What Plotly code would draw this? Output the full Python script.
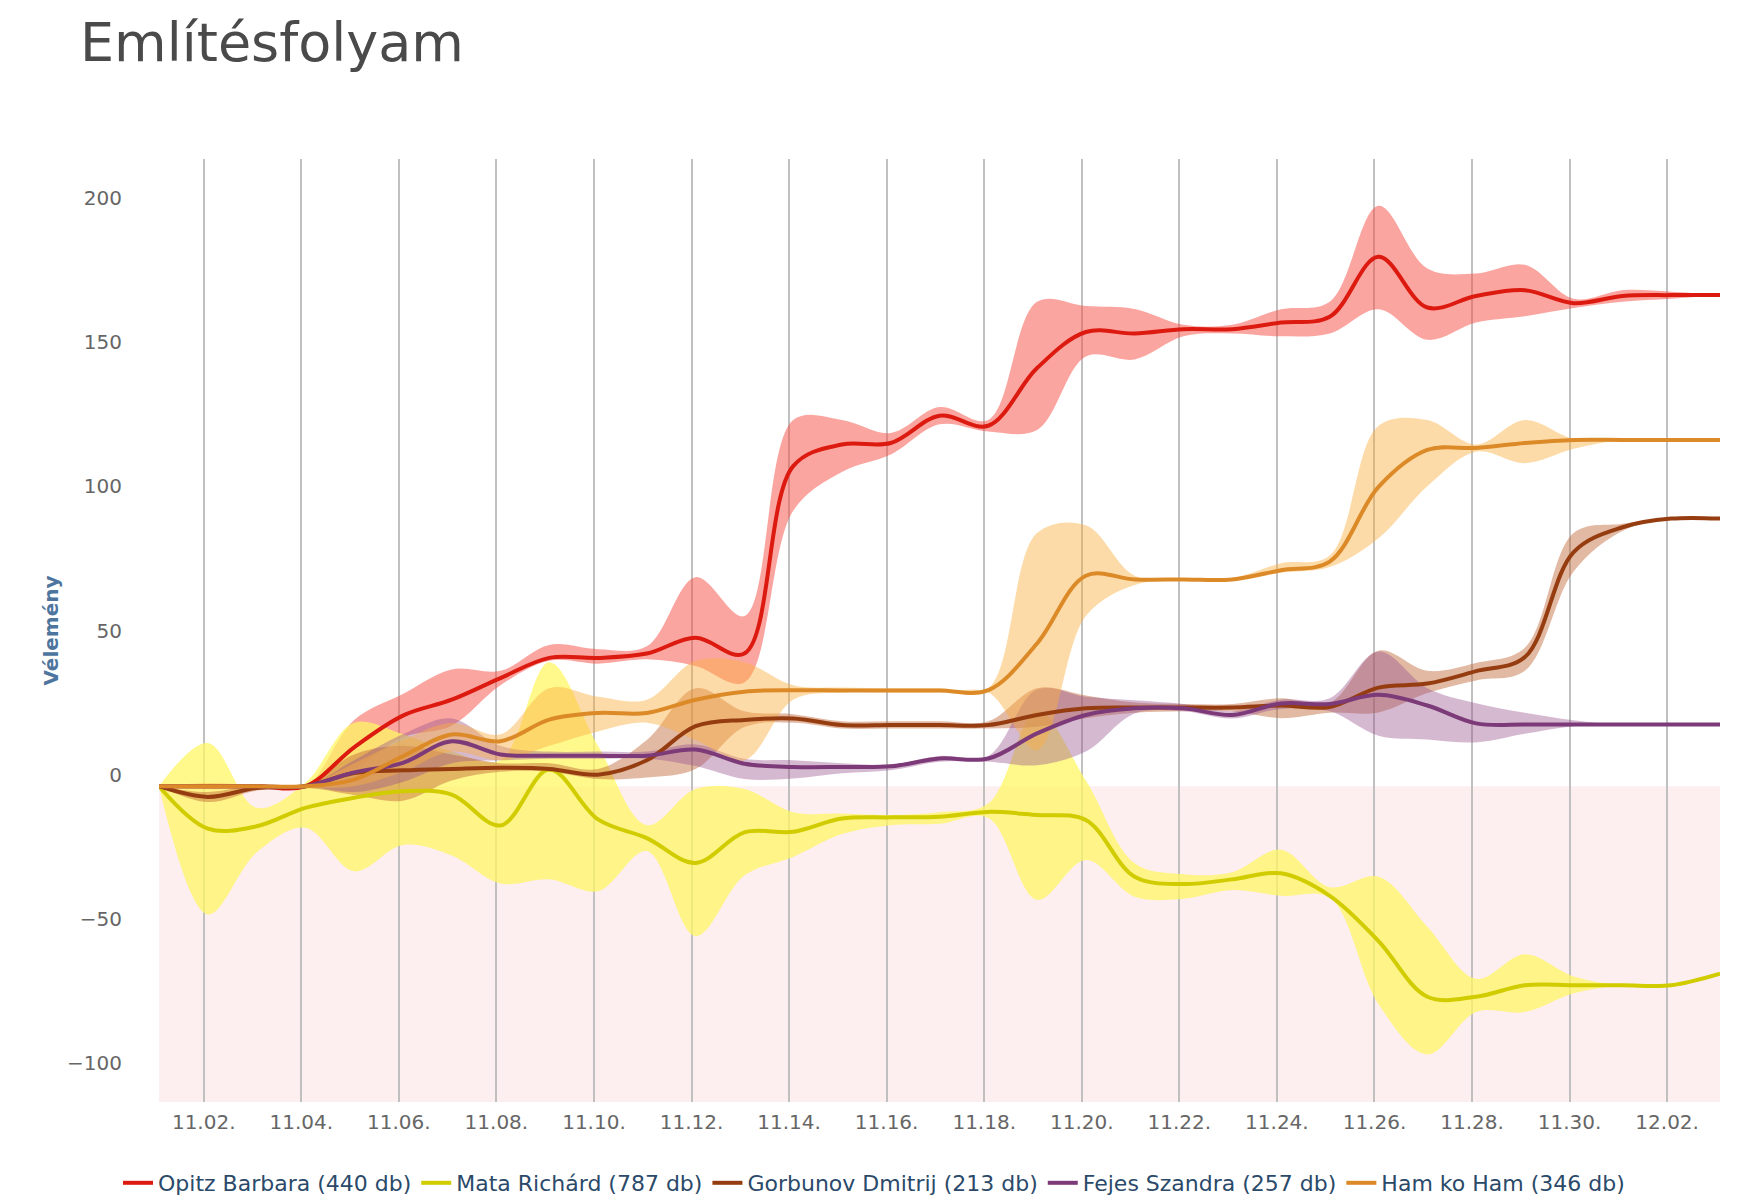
import plotly.graph_objects as go
import pandas as pd

dates = pd.date_range("2015-11-01 02:00", periods=33, freq="D")

names = ["Opitz Barbara (440 db)", "Mata Richárd (787 db)", "Gorbunov Dmitrij (213 db)",
         "Fejes Szandra (257 db)", "Ham ko Ham (346 db)"]

opitz = [-4, -4, -4, -4, 9.5, 20.5, 26, 33.5, 40.5, 40.5, 42, 47.5, 42, 107, 114.5, 115, 124.5,
         121, 141, 153.5, 153, 154.5, 154.5, 156.8, 158.8, 179.6, 162, 166, 168, 163.5, 166, 166.3, 166.3]
opitz_hi = [-4, -4, -4, -4, 19, 28, 36.5, 36, 45, 43.5, 44.5, 68.5, 55, 123, 123, 118.5, 127.5,
            123, 164, 162.5, 161.5, 156, 156, 161.4, 164, 197.3, 175.5, 173.8, 176.8, 165, 168, 167.5, 166.3]
opitz_lo = [-4, -4, -4, -4, 2, 13, 17, 31, 39.5, 38.5, 40, 37.7, 32, 91.5, 105, 111, 121.5,
            119, 119.5, 145, 144, 152, 153, 152, 153, 161.4, 150.8, 156.8, 159, 161.8, 164, 165, 166.3]

mata = [-4, -18.7, -17.9, -11.5, -8, -5.7, -6.9, -17.6, 1.8, -15.5, -22, -30.6, -20, -19.8, -15.2, -14.8, -14.6,
        -12.9, -14, -15.7, -35.4, -37.9, -36.3, -34.2, -42, -57.7, -77, -77, -73, -73, -73, -73, -69]
mata_hi = [-4, 11, -11.5, -2.8, 18, 14, 8, 5, 39, 10, -17.5, -5, -5, -13, -13.5, -14, -13,
           -10, 22, -2, -30.7, -34.5, -33.8, -26, -39, -35.4, -52.7, -70.8, -62.3, -70, -73, -73, -69]
mata_lo = [-4, -48.5, -27, -18.4, -33.5, -24.4, -28, -37.7, -36.3, -40.4, -26.5, -56, -35, -28.5, -20.6, -17.5, -17,
           -15, -43.4, -29.6, -42.3, -43, -40, -42, -42.7, -79.6, -97, -82.3, -82.3, -75.8, -73, -73, -69]

gorb = [-4, -7.7, -4.6, -4, 0.6, 1.5, 2, 2.4, 2, 0, 5, 16.8, 19, 19.5, 17.2, 17.2, 17.2,
        17.2, 20.7, 23, 23.3, 23.3, 23.3, 24, 23.5, 30.2, 31.6, 35.9, 40.8, 77.2, 85.8, 88.8, 88.8]
gorb_hi = [-4, -6, -3.5, -3.5, 7, 10, 7, 4, 4, 2, 12, 30, 22, 21, 18.5, 18.5, 18.5,
           18.5, 30, 27.5, 25, 24.5, 24.5, 26.5, 25, 43, 36, 38.7, 44, 83.8, 87, 88.8, 88.8]
gorb_lo = [-4, -9.5, -5.5, -4.5, -7, -9, -2, 1, 1, -1.5, -1, 2, 16.5, 18, 16, 16, 16,
           16, 16.6, 19.6, 21.5, 22, 22, 19.6, 21.5, 21.6, 28.3, 32.7, 36, 70.5, 84.5, 88.8, 88.8]

fejes = [-4, -4, -4, -4, 0.8, 4.1, 11.6, 7, 6.6, 6.6, 6.6, 8.7, 3.8, 2.7, 2.7, 2.9, 5.6,
         5.6, 14.3, 20.7, 23, 23, 20.7, 24.7, 24.5, 27.7, 24, 17.8, 17.4, 17.4, 17.4, 17.4, 17.4]
fejes_hi = [-4, -4, -4, -4, 5, 14, 19.5, 10, 8, 8, 8, 10.5, 5.5, 5, 4, 3.5, 6.5,
            6.5, 29.5, 27, 25.8, 24.5, 22, 26, 26.5, 42.7, 30, 24.8, 21.5, 18.9, 17.4, 17.4, 17.4]
fejes_lo = [-4, -4, -4, -4, -6, -2.5, 4, 5, 5.5, 5.5, 5.5, 3, -1.5, -1.3, 0.5, 1.5, 4.5,
            4.5, 3.3, 8, 21.2, 22, 19.5, 22.8, 22, 13.5, 12.2, 11.2, 14.2, 16.8, 17.4, 17.4, 17.4]

ham = [-4, -4, -4, -4, -1.7, 6.4, 13.9, 11.6, 19.1, 21.4, 21.4, 26, 28.8, 29.3, 29.2, 29.2, 29.2,
       29.3, 45.5, 69, 67.7, 67.7, 67.7, 70.9, 73.9, 99.8, 112.6, 113.3, 115, 116.1, 116.1, 116.1, 116.1]
ham_hi = [-4, -3, -3.5, -3.5, 4, 12, 18, 14, 30, 27, 26, 39.5, 39, 31, 30.2, 30, 30,
          30, 83.8, 86.5, 69, 68.2, 68.2, 73.3, 76, 121, 123, 114.5, 123, 116.5, 116.1, 116.1, 116.1]
ham_lo = [-4, -5, -4.5, -4.5, -4, 1, 8, 5, 10, 15, 18, 12, 5, 26, 28.5, 28.5, 28.5,
          28.5, 8.5, 55, 65.8, 67.2, 67.2, 70, 72, 82, 100, 112, 108, 113, 116.1, 116.1, 116.1]

y_ticks = [-100, -50, 0, 50, 100, 150, 200]

line_colors = ["#dc1a0f", "#d0cc00", "#953d10", "#7d3a78", "#dc8a28"]
band_colors = ["rgba(248,75,65,0.5)", "rgba(255,245,100,0.75)", "rgba(190,100,50,0.45)",
               "rgba(150,80,140,0.4)", "rgba(250,175,65,0.45)"]

series = [(opitz, opitz_hi, opitz_lo), (mata, mata_hi, mata_lo), (gorb, gorb_hi, gorb_lo),
          (fejes, fejes_hi, fejes_lo), (ham, ham_hi, ham_lo)]

W, H = 1732, 1192  # page has an 8px body margin

fig = go.Figure()

for (mid, hi, lo), bc in zip(series, band_colors):
    fig.add_trace(go.Scatter(x=dates, y=lo, mode="lines", line=dict(width=0, shape="spline"),
                             showlegend=False, hoverinfo="skip"))
    fig.add_trace(go.Scatter(x=dates, y=hi, mode="lines", line=dict(width=0, shape="spline"),
                             fill="tonexty", fillcolor=bc, showlegend=False, hoverinfo="skip"))

for (mid, hi, lo), lc, nm in zip(series, line_colors, names):
    fig.add_trace(go.Scatter(x=dates, y=mid, mode="lines", name=nm,
                             line=dict(color=lc, width=4, shape="spline")))

fig.add_shape(type="rect", xref="paper", x0=0, x1=1, yref="y", y0=-4, y1=-113.5,
              fillcolor="#fdeff0", line=dict(width=0), layer="below")

fig.add_annotation(text="<b>Vélemény</b>", xref="paper", yref="paper", x=-0.0698, y=0.5,
                   xanchor="center", yanchor="middle",
                   textangle=-90, showarrow=False,
                   font=dict(family="DejaVu Sans", size=20, color="#4d759e"))

fig.update_layout(
    width=W, height=H, autosize=False,
    margin=dict(l=151, r=20, t=151, b=98),
    paper_bgcolor="white", plot_bgcolor="white",
    font=dict(family="DejaVu Sans", color="#666666"),
    title=dict(text="Említésfolyam", x=72 / W, xanchor="left", xref="container",
               y=1 - 34 / H, yanchor="middle", yref="container",
               font=dict(family="DejaVu Sans", size=54, color="#4a4a4a")),
    xaxis=dict(type="date", range=[dates[0], dates[-1]], tick0="2015-11-02", dtick=2 * 86400000,
               tickformat="%m.%d.", showgrid=True, gridcolor="#c0c0c0", gridwidth=1.5,
               zeroline=False, showline=False, ticks="outside", ticklen=2,
               tickcolor="rgba(0,0,0,0)",
               tickfont=dict(size=20, color="#666666")),
    yaxis=dict(range=[-113.5, 213.5], tickvals=y_ticks, showgrid=False, zeroline=False,
               showline=False, ticks="outside", ticklen=32, tickcolor="rgba(0,0,0,0)",
               tickfont=dict(size=20, color="#666666")),
    legend=dict(orientation="h", x=0.5, xanchor="center", xref="container",
                y=1 - 1175 / H, yanchor="middle", yref="container", traceorder="normal",
                font=dict(family="DejaVu Sans", size=22, color="#2b4a6a")),
    showlegend=True,
)

fig.write_html("out.html")
